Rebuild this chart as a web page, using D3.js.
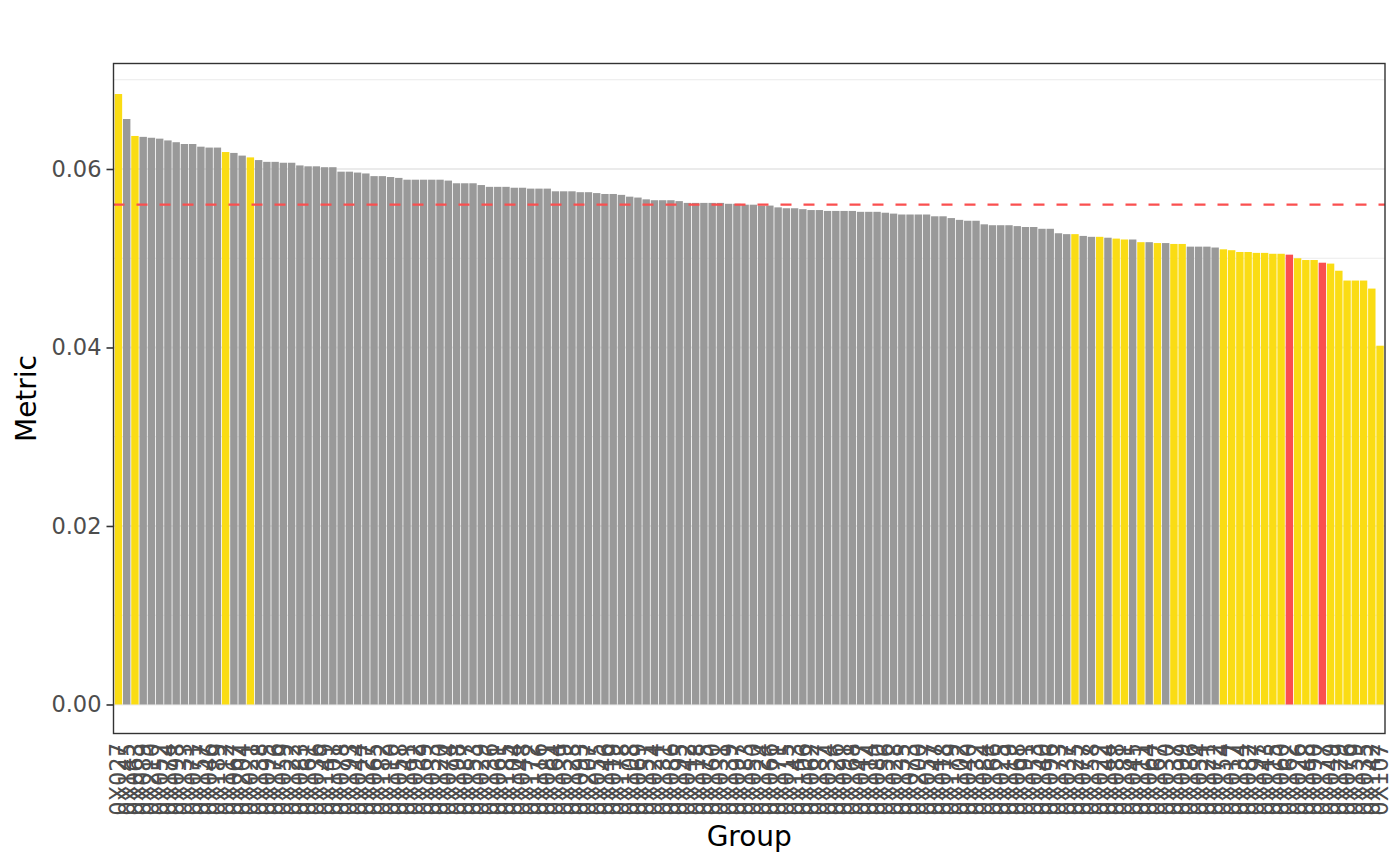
<!DOCTYPE html>
<html>
<head>
<meta charset="utf-8">
<script src="https://cdn.jsdelivr.net/npm/d3@7"></script>
<style>
  body { margin: 0; background: #fff; }
  svg { display: block; font-family: "DejaVu Sans", sans-serif; }
</style>
</head>
<body>
<div id="chart"></div>
<script>
// group codes, in plotted order (labels overlap in the original, codes are approximate)
const groups = ("0X027 0X145 0X063 0X089 0X210 0X052 0X174 0X098 0X133 0X071 0X157 0X046 0X189 0X112 " +
  "0X067 0X204 0X021 0X138 0X095 0X176 0X059 0X122 0X083 0X161 0X036 0X149 0X101 0X078 " +
  "0X193 0X044 0X127 0X065 0X182 0X110 0X058 0X141 0X092 0X169 0X033 0X120 0X074 0X198 " +
  "0X087 0X153 0X029 0X136 0X061 0X185 0X104 0X048 0X172 0X116 0X081 0X164 0X039 0X128 " +
  "0X093 0X207 0X055 0X146 0X019 0X178 0X108 0X069 0X151 0X024 0X131 0X086 0X195 0X042 " +
  "0X118 0X075 0X160 0X031 0X139 0X097 0X183 0X050 0X124 0X066 0X171 0X015 0X143 0X106 " +
  "0X062 0X187 0X034 0X126 0X091 0X168 0X047 0X114 0X080 0X156 0X028 0X135 0X073 0X200 " +
  "0X057 0X147 0X018 0X179 0X102 0X040 0X132 0X084 0X166 0X025 0X119 0X068 0X191 0X053 " +
  "0X140 0X096 0X173 0X037 0X125 0X077 0X158 0X022 0X144 0X088 0X181 0X045 0X111 0X064 " +
  "0X167 0X030 0X137 0X099 0X186 0X054 0X121 0X072 0X154 0X017 0X134 0X082 0X197 0X043 " +
  "0X115 0X060 0X162 0X026 0X148 0X090 0X177 0X049 0X129 0X076 0X159 0X035 0X142 0X107").split(" ");

// metric per group
const metric = [
  0.0684, 0.0656, 0.0637, 0.0636, 0.0635, 0.0634, 0.0632, 0.0630, 0.0628, 0.0628, 0.0625, 0.0624, 0.0624, 0.0619,
  0.0618, 0.0615, 0.0613, 0.0610, 0.0608, 0.0608, 0.0607, 0.0607, 0.0604, 0.0603, 0.0603, 0.0602, 0.0602, 0.0597,
  0.0597, 0.0596, 0.0595, 0.0592, 0.0592, 0.0591, 0.0590, 0.0588, 0.0588, 0.0588, 0.0588, 0.0588, 0.0587, 0.0584,
  0.0584, 0.0584, 0.0582, 0.0580, 0.0580, 0.0580, 0.0579, 0.0579, 0.0578, 0.0578, 0.0578, 0.0575, 0.0575, 0.0575,
  0.0574, 0.0574, 0.0573, 0.0572, 0.0572, 0.0571, 0.0569, 0.0568, 0.0566, 0.0565, 0.0565, 0.0565, 0.0564, 0.0562,
  0.0562, 0.0562, 0.0562, 0.0562, 0.0561, 0.0561, 0.0560, 0.0560, 0.0559, 0.0559, 0.0557, 0.0556, 0.0556, 0.0555,
  0.0554, 0.0554, 0.0553, 0.0553, 0.0553, 0.0553, 0.0552, 0.0552, 0.0552, 0.0551, 0.0550, 0.0549, 0.0549, 0.0549,
  0.0549, 0.0547, 0.0547, 0.0545, 0.0543, 0.0542, 0.0542, 0.0538, 0.0537, 0.0537, 0.0537, 0.0536, 0.0535, 0.0535,
  0.0533, 0.0533, 0.0528, 0.0527, 0.0527, 0.0525, 0.0524, 0.0524, 0.0523, 0.0522, 0.0521, 0.0521, 0.0518, 0.0518,
  0.0517, 0.0517, 0.0516, 0.0516, 0.0513, 0.0513, 0.0513, 0.0512, 0.0510, 0.0509, 0.0507, 0.0507, 0.0506, 0.0506,
  0.0505, 0.0505, 0.0504, 0.0500, 0.0498, 0.0498, 0.0495, 0.0494, 0.0486, 0.0475, 0.0475, 0.0475, 0.0466, 0.0402
];

// 1-based positions of flagged groups
const yellowPos = [1, 3, 14, 17, 117, 120, 122, 123, 125, 127, 129, 130,
  135, 136, 137, 138, 139, 140, 141, 142, 144, 145, 146, 148, 149, 150, 151, 152, 153, 154];
const redPos = [143, 147];

const refLine = 0.0560;
const yTicks = [0, 0.02, 0.04, 0.06];
const yMinor = [0.01, 0.03, 0.05, 0.07];

const data = groups.map((g, i) => ({
  g: g,
  v: metric[i],
  c: redPos.includes(i + 1) ? "red" : (yellowPos.includes(i + 1) ? "yellow" : "grey")
}));

const colour = d3.scaleOrdinal()
  .domain(["grey", "yellow", "red"])
  .range(["#999999", "#FADC14", "#FA4F4F"]);

const width = 1400, height = 866;
const panel = { left: 113.5, right: 1385, top: 63.5, bottom: 733.5 };

const svg = d3.select("#chart").append("svg")
  .attr("width", width)
  .attr("height", height);

const vmax = d3.max(metric);
const y = d3.scaleLinear()
  .domain([-0.05 * vmax, 1.05 * vmax])
  .range([735, panel.top]);

const x = d3.scaleBand()
  .domain(groups)
  .range([panel.left, panel.right])
  .paddingInner(0.1)
  .paddingOuter(0.15);

// grid
svg.append("g").selectAll("line.minor")
  .data(yMinor)
  .join("line")
  .attr("x1", panel.left).attr("x2", panel.right)
  .attr("y1", d => y(d)).attr("y2", d => y(d))
  .attr("stroke", "#EBEBEB").attr("stroke-width", 1);

svg.append("g").selectAll("line.major")
  .data(yTicks)
  .join("line")
  .attr("x1", panel.left).attr("x2", panel.right)
  .attr("y1", d => y(d)).attr("y2", d => y(d))
  .attr("stroke", "#EBEBEB").attr("stroke-width", 2);

// bars
svg.append("g").selectAll("rect")
  .data(data)
  .join("rect")
  .attr("x", d => x(d.g))
  .attr("width", x.bandwidth())
  .attr("y", d => y(d.v))
  .attr("height", d => y(0) - y(d.v))
  .attr("fill", d => colour(d.c));

// reference line
svg.append("line")
  .attr("x1", panel.left).attr("x2", panel.right)
  .attr("y1", y(refLine)).attr("y2", y(refLine))
  .attr("stroke", "#FA4F4F")
  .attr("stroke-width", 2.2)
  .attr("stroke-dasharray", "11,12");

// panel border
svg.append("rect")
  .attr("x", panel.left).attr("y", panel.top)
  .attr("width", panel.right - panel.left)
  .attr("height", panel.bottom - panel.top)
  .attr("fill", "none")
  .attr("stroke", "#333333")
  .attr("stroke-width", 1.4);

// y axis
const yAxis = svg.append("g")
  .attr("transform", `translate(${panel.left},0)`)
  .call(d3.axisLeft(y).tickValues(yTicks).tickFormat(d3.format(".2f")).tickSize(7).tickPadding(5));
yAxis.select(".domain").remove();
yAxis.selectAll(".tick line").attr("stroke", "#333333").attr("stroke-width", 1.6);
yAxis.selectAll(".tick text")
  .attr("fill", "#4D4D4D")
  .style("font-size", "22.5px")
  .style("font-family", "DejaVu Sans");

// x axis labels
svg.append("g").selectAll("text")
  .data(groups)
  .join("text")
  .attr("transform", d => `translate(${x(d) + x.bandwidth() / 2},${panel.bottom + 9.5}) rotate(-90)`)
  .attr("text-anchor", "end")
  .attr("dominant-baseline", "central")
  .attr("fill", "#4D4D4D")
  .style("font-size", "22.5px")
  .text(d => d);

// axis titles
svg.append("text")
  .attr("x", (panel.left + panel.right) / 2)
  .attr("y", 846)
  .attr("text-anchor", "middle")
  .attr("fill", "#000")
  .style("font-size", "28px")
  .text("Group");

svg.append("text")
  .attr("transform", `translate(36,${(panel.top + panel.bottom) / 2}) rotate(-90)`)
  .attr("text-anchor", "middle")
  .attr("fill", "#000")
  .style("font-size", "28px")
  .text("Metric");
</script>
</body>
</html>
